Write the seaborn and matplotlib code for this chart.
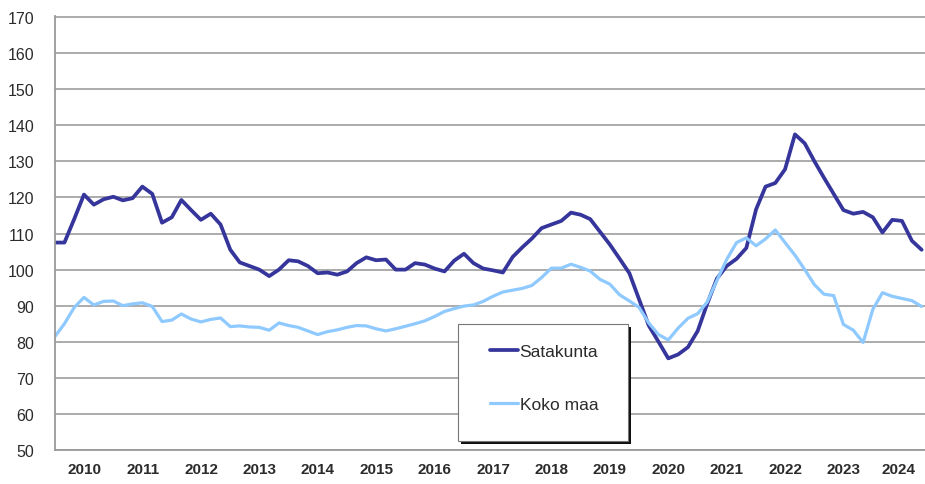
import matplotlib
matplotlib.use("Agg")
import matplotlib.pyplot as plt
import matplotlib.dates as mdates
from matplotlib.patches import Rectangle
from matplotlib.ticker import NullFormatter
import pandas as pd
import seaborn as sns

# year labels on the x axis
years = list(range(2010, 2025))

# index values read every second month, Jan 2010 - Nov 2024
satakunta = [
    107.5, 107.5, 114.0, 120.8, 118.0, 119.5, 120.2, 119.2, 119.8, 123.0,
    121.0, 113.0, 114.5, 119.3, 116.5, 113.8, 115.5, 112.5, 105.5, 102.0,
    101.0, 100.0, 98.2, 100.0, 102.6, 102.3, 101.0, 99.0, 99.2, 98.6,
    99.5, 101.8, 103.4, 102.6, 102.8, 100.0, 100.0, 101.8, 101.4, 100.3,
    99.5, 102.5, 104.4, 101.8, 100.3, 99.8, 99.2, 103.5, 106.2, 108.6,
    111.5, 112.5, 113.5, 115.8, 115.2, 114.0, 110.5, 107.0, 103.0, 99.0,
    91.7, 84.5, 80.0, 75.4, 76.5, 78.5, 83.0, 90.5, 97.5, 101.0,
    103.0, 106.0, 116.7, 123.0, 124.0, 127.8, 137.5, 135.0, 130.0, 125.5,
    121.0, 116.5, 115.5, 116.0, 114.5, 110.3, 113.8, 113.5, 108.0, 105.5,
]
koko_maa = [
    81.5, 85.0, 89.5, 92.3, 90.2, 91.2, 91.3, 90.0, 90.5, 90.8,
    89.8, 85.6, 86.0, 87.7, 86.3, 85.5, 86.2, 86.6, 84.2, 84.4,
    84.1, 84.0, 83.2, 85.2, 84.5, 84.0, 83.0, 82.0, 82.8, 83.3,
    84.0, 84.5, 84.4, 83.6, 83.0, 83.6, 84.3, 85.0, 85.8, 87.0,
    88.4, 89.2, 89.9, 90.2, 91.2, 92.6, 93.8, 94.3, 94.8, 95.6,
    97.8, 100.4, 100.4, 101.5, 100.6, 99.6, 97.3, 96.0, 93.0, 91.3,
    89.5, 85.2, 82.0, 80.5, 83.8, 86.5, 87.8, 91.0, 97.0, 102.8,
    107.5, 108.8, 106.6, 108.5, 111.0, 107.5, 104.0, 100.0, 95.8, 93.2,
    92.8, 84.8, 83.2, 79.8, 89.0, 93.6, 92.6, 92.0, 91.4, 89.8,
]

dates = pd.date_range("2010-01-01", periods=len(satakunta), freq="2MS")
df = pd.DataFrame({"date": dates, "Satakunta": satakunta, "Koko maa": koko_maa})

sns.set_style("white")
plt.rcParams["font.family"] = ["Liberation Sans", "DejaVu Sans"]

fig = plt.figure(figsize=(9.25, 4.85), dpi=100)
ax = fig.add_axes([55 / 925, 34 / 485, 870 / 925, 434 / 485])

sns.lineplot(data=df, x="date", y="Satakunta", ax=ax, color="#35359b",
             lw=2.7, label="Satakunta", solid_joinstyle="round")
sns.lineplot(data=df, x="date", y="Koko maa", ax=ax, color="#8ec9ff",
             lw=2.3, label="Koko maa", solid_joinstyle="round")

ax.set_ylim(50, 170.3)
ax.set_yticks(range(50, 171, 10))
x_start = pd.Timestamp("2010-01-01")
x_end = pd.Timestamp("2024-11-22")
ax.set_xlim(x_start, x_end)
ax.set_xlabel("")
ax.set_ylabel("")

# year boundaries as major ticks, year names centred in between
ax.xaxis.set_major_locator(mdates.YearLocator())
ax.xaxis.set_major_formatter(NullFormatter())
mids = []
for y in years:
    a = pd.Timestamp(f"{y}-01-01")
    b = min(pd.Timestamp(f"{y + 1}-01-01"), x_end)
    mids.append(a + (b - a) / 2)
ax.set_xticks(mdates.date2num(mids), minor=True)
ax.set_xticklabels([str(y) for y in years], minor=True, fontweight="bold")

ax.yaxis.grid(True, color="#ababab", lw=1.4)
ax.set_axisbelow(True)
ax.tick_params(axis="x", which="major", length=5, width=1.2, color="#9a9a9a")
ax.tick_params(axis="x", which="minor", length=0, pad=9, labelsize=11,
               labelcolor="#2b2b2b")
ax.tick_params(axis="y", length=7, width=1.4, color="#ababab", pad=8,
               labelsize=11.5, labelcolor="#2b2b2b")

sns.despine(ax=ax, top=True, right=True)
for side in ["left", "bottom"]:
    ax.spines[side].set_color("#9a9a9a")
    ax.spines[side].set_linewidth(1.3)

# legend box with a dark drop shadow
bx, by, bw, bh = 0.4632, 0.0207, 0.1954, 0.2696
ax.add_patch(Rectangle((bx + 0.0035, by - 0.007), bw, bh, transform=ax.transAxes,
                       facecolor="#111111", edgecolor="none", zorder=4))
ax.add_patch(Rectangle((bx, by), bw, bh, transform=ax.transAxes,
                       facecolor="white", edgecolor="#777777", lw=0.8, zorder=5))
handles, labels = ax.get_legend_handles_labels()
leg = ax.legend(handles, labels, frameon=False, loc="upper left",
                bbox_to_anchor=(0.5, 0.245), borderpad=0, borderaxespad=0,
                handlelength=1.6, handletextpad=0.1, labelspacing=2.2,
                fontsize=12.5, labelcolor="#2b2b2b")
leg.set_zorder(6)

fig.savefig("out.png", dpi=100)
